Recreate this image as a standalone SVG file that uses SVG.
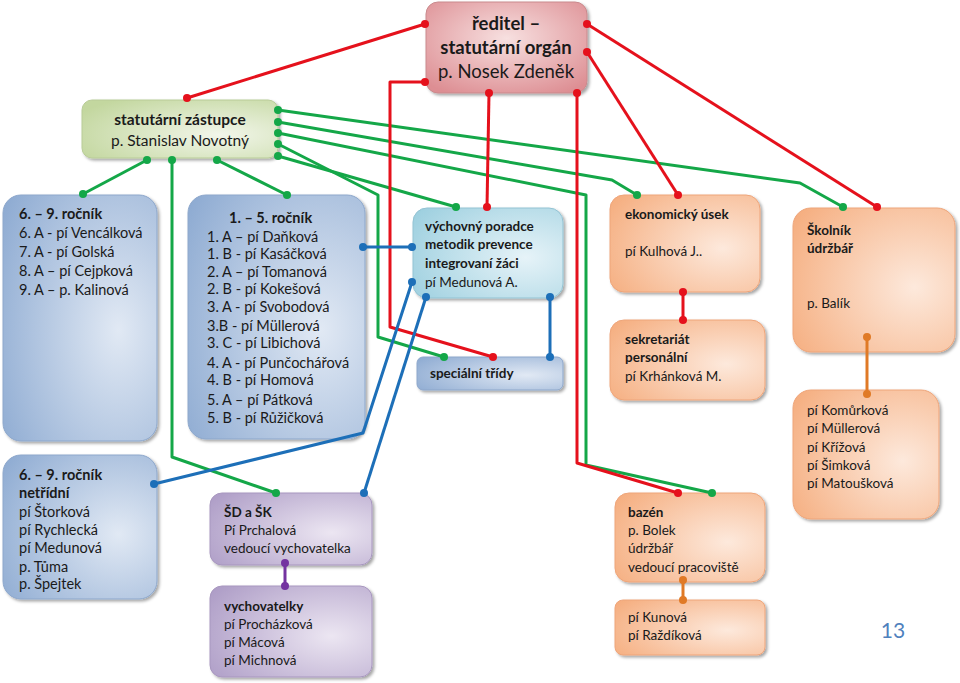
<svg xmlns="http://www.w3.org/2000/svg" width="960" height="683" viewBox="0 0 960 683">
<defs>
<radialGradient id="gRed" cx="50%" cy="40%" r="70%"><stop offset="0" stop-color="#f7e0e0"/><stop offset="1" stop-color="#dd8e93"/></radialGradient>
<radialGradient id="gGreen" cx="70%" cy="60%" r="80%"><stop offset="0" stop-color="#f2f6ea"/><stop offset="1" stop-color="#c3d79f"/></radialGradient>
<radialGradient id="gBlue" cx="75%" cy="55%" r="90%"><stop offset="0" stop-color="#e1e9f4"/><stop offset="1" stop-color="#8eabd2"/></radialGradient>
<radialGradient id="gCyan" cx="75%" cy="55%" r="90%"><stop offset="0" stop-color="#e6f3f8"/><stop offset="1" stop-color="#9ccfdf"/></radialGradient>
<radialGradient id="gOrange" cx="75%" cy="55%" r="90%"><stop offset="0" stop-color="#fde9dc"/><stop offset="1" stop-color="#f5ad7e"/></radialGradient>
<radialGradient id="gPurple" cx="75%" cy="55%" r="90%"><stop offset="0" stop-color="#ece6f2"/><stop offset="1" stop-color="#ad9cc6"/></radialGradient>
<filter id="sh" x="-10%" y="-10%" width="125%" height="125%"><feDropShadow dx="2" dy="2" stdDeviation="1.5" flood-color="#000" flood-opacity="0.35"/></filter>
</defs>
<style>
text{font-family:Lato,"Liberation Sans",sans-serif;font-size:14.5px;fill:#1a1a1a}
.b{font-weight:bold}
.box{filter:url(#sh)}
.red{fill:url(#gRed);stroke:#c98a8d;stroke-width:1}
.grn{fill:url(#gGreen);stroke:#b9cc98;stroke-width:1}
.blu{fill:url(#gBlue);stroke:#8da7cb;stroke-width:1}
.cyn{fill:url(#gCyan);stroke:#93c3d3;stroke-width:1}
.org{fill:url(#gOrange);stroke:#eea57a;stroke-width:1}
.pur{fill:url(#gPurple);stroke:#a897bf;stroke-width:1}
.c{fill:none;stroke-width:3;stroke-linejoin:round}
.cg{stroke:#14a748}.cr{stroke:#e5111c}.cb{stroke:#1d6fb8}.cp{stroke:#7433a0}.co{stroke:#e07a26}
.dg{fill:#14a748}.dr{fill:#e5111c}.db{fill:#1d6fb8}.dp{fill:#7433a0}.do{fill:#e07a26}
</style>
<rect width="960" height="683" fill="#fff"/>

<g id="reditel"><rect class="box red" x="426" y="2" width="161" height="91" rx="12"/>
<text x="506" y="30" text-anchor="middle" class="b" style="font-size:18.5px">ředitel –</text>
<text x="506" y="54" text-anchor="middle" class="b" style="font-size:18.5px">statutární orgán</text>
<text x="506" y="78" text-anchor="middle" style="font-size:18.5px">p. Nosek Zdeněk</text></g>

<g id="zastupce"><rect class="box grn" x="82" y="100" width="196" height="58" rx="10"/>
<text x="180" y="125" text-anchor="middle" class="b" style="font-size:15.5px">statutární zástupce</text>
<text x="180" y="146" text-anchor="middle" style="font-size:15.5px">p. Stanislav Novotný</text></g>

<g id="rocnik69"><rect class="box blu" x="3" y="195" width="154" height="246" rx="18"/>
<text x="19" y="219" class="b">6. – 9. ročník</text>
<text x="19" y="238">6. A - pí Vencálková</text>
<text x="19" y="257">7. A  - pí Golská</text>
<text x="19" y="276">8. A – pí Cejpková</text>
<text x="19" y="295">9. A – p. Kalinová</text></g>

<g id="netridni"><rect class="box blu" x="3" y="455" width="154" height="144" rx="18"/>
<text x="19" y="480" class="b">6. – 9. ročník</text>
<text x="19" y="498" class="b">netřídní</text>
<text x="19" y="517">pí Štorková</text>
<text x="19" y="535">pí Rychlecká</text>
<text x="19" y="553">pí Medunová</text>
<text x="19" y="572">p. Tůma</text>
<text x="19" y="589">p. Špejtek</text></g>

<g id="rocnik15"><rect class="box blu" x="188" y="195" width="177" height="244" rx="18"/>
<text x="229" y="223" class="b">1.   – 5. ročník</text>
<text x="207" y="242">1. A – pí Daňková</text>
<text x="207" y="259">1. B - pí Kasáčková</text>
<text x="207" y="277">2. A – pí Tomanová</text>
<text x="207" y="294">2. B - pí Kokešová</text>
<text x="207" y="312">3. A - pí Svobodová</text>
<text x="207" y="331">3.B - pí Müllerová</text>
<text x="207" y="348">3. C - pí Libichová</text>
<text x="207" y="368">4. A  - pí Punčochářová</text>
<text x="207" y="385">4. B - pí Homová</text>
<text x="207" y="405">5. A – pí Pátková</text>
<text x="207" y="423">5. B - pí Růžičková</text></g>

<g id="vychovny"><rect class="box cyn" x="413" y="208" width="150" height="90" rx="14"/>
<text x="425" y="231" class="b" style="font-size:13.5px">výchovný poradce</text>
<text x="425" y="249" class="b" style="font-size:13.5px">metodik prevence</text>
<text x="425" y="268" class="b" style="font-size:13.5px">integrovaní žáci</text>
<text x="425" y="287" style="font-size:13.5px">pí Medunová A.</text></g>

<g id="specialni"><rect class="box blu" x="417" y="357" width="146" height="33" rx="6"/>
<text x="430" y="378" class="b" style="font-size:13.5px">speciální třídy</text></g>

<g id="ekonomicky"><rect class="box org" x="610" y="195" width="150" height="97" rx="14"/>
<text x="625" y="219" class="b" style="font-size:13.5px">ekonomický úsek</text>
<text x="625" y="256" style="font-size:13.5px">pí Kulhová J..</text></g>

<g id="sekretariat"><rect class="box org" x="610" y="320" width="155" height="80" rx="14"/>
<text x="625" y="344" class="b" style="font-size:13.5px">sekretariát</text>
<text x="625" y="362" class="b" style="font-size:13.5px">personální</text>
<text x="625" y="381" style="font-size:13.5px">pí Krhánková M.</text></g>

<g id="skolnik"><rect class="box org" x="793" y="208" width="162" height="144" rx="18"/>
<text x="807" y="235" class="b" style="font-size:13.5px">Školník</text>
<text x="807" y="253" class="b" style="font-size:13.5px">údržbář</text>
<text x="807" y="308" style="font-size:13.5px">p. Balík</text></g>

<g id="uklid"><rect class="box org" x="793" y="390" width="146" height="129" rx="18"/>
<text x="807" y="415" style="font-size:13.5px">pí Komůrková</text>
<text x="807" y="433" style="font-size:13.5px">pí Müllerová</text>
<text x="807" y="452" style="font-size:13.5px">pí Křížová</text>
<text x="807" y="470" style="font-size:13.5px">pí Šimková</text>
<text x="807" y="488" style="font-size:13.5px">pí Matoušková</text></g>

<g id="bazen"><rect class="box org" x="615" y="493" width="150" height="89" rx="14"/>
<text x="628" y="517" class="b" style="font-size:13.5px">bazén</text>
<text x="628" y="535" style="font-size:13.5px">p. Bolek</text>
<text x="628" y="553" style="font-size:13.5px">údržbář</text>
<text x="628" y="572" style="font-size:13.5px">vedoucí pracoviště</text></g>

<g id="bazen-list"><rect class="box org" x="615" y="600" width="150" height="55" rx="8"/>
<text x="628" y="622" style="font-size:13.5px">pí  Kunová</text>
<text x="628" y="640" style="font-size:13.5px">pí Raždíková</text></g>

<g id="sdsk"><rect class="box pur" x="210" y="493" width="162" height="72" rx="12"/>
<text x="224" y="517" class="b" style="font-size:13.5px">ŠD a ŠK</text>
<text x="224" y="535" style="font-size:13.5px">Pí Prchalová</text>
<text x="224" y="553" style="font-size:13.5px">vedoucí vychovatelka</text></g>

<g id="vychovatelky"><rect class="box pur" x="210" y="586" width="162" height="91" rx="12"/>
<text x="224" y="611" class="b" style="font-size:13.5px">vychovatelky</text>
<text x="224" y="629" style="font-size:13.5px">pí Procházková</text>
<text x="224" y="647" style="font-size:13.5px">pí Mácová</text>
<text x="224" y="665" style="font-size:13.5px">pí Michnová</text></g>

<g id="page"><text x="893" y="638" text-anchor="middle" style="font-size:21px;fill:#4f81bd">13</text></g>

<g id="connectors">
<polyline class="c cg" points="147,160 83,194"/>
<polyline class="c cg" points="172,160 172,457 276,493"/>
<polyline class="c cg" points="217,160 287,195"/>
<polyline class="c cg" points="278,110 800,183 843,207"/>
<polyline class="c cg" points="278,122 612,180 637,195"/>
<polyline class="c cg" points="278,133 586,195 586,465 712,493"/>
<polyline class="c cg" points="278,144 378,195 378,337 444,357"/>
<polyline class="c cg" points="278,156 456,207"/>
<polyline class="c cr" points="425,24 187,98"/>
<polyline class="c cr" points="425,82 390,82 390,327 493,357"/>
<polyline class="c cr" points="489,93 487,207"/>
<polyline class="c cr" points="577,93 577,463 678,493"/>
<polyline class="c cr" points="587,52 678,195"/>
<polyline class="c cr" points="587,24 877,207"/>
<polyline class="c cr" points="683,292 683,320"/>
<polyline class="c cb" points="363,247 412,247"/>
<polyline class="c cb" points="412,282 363,433 154,484"/>
<polyline class="c cb" points="426,297 364,493"/>
<polyline class="c cb" points="550,297 550,357"/>
<polyline class="c cp" points="285,563 285,586"/>
<polyline class="c co" points="867,337 867,394"/>
<polyline class="c co" points="683,580 683,600"/>
<g class="dg">
<circle cx="147" cy="160" r="4"/><circle cx="83" cy="194" r="4"/>
<circle cx="172" cy="160" r="4"/><circle cx="276" cy="493" r="4"/>
<circle cx="217" cy="160" r="4"/><circle cx="287" cy="195" r="4"/>
<circle cx="278" cy="110" r="4"/><circle cx="843" cy="207" r="4"/>
<circle cx="278" cy="122" r="4"/><circle cx="637" cy="195" r="4"/>
<circle cx="278" cy="133" r="4"/><circle cx="712" cy="493" r="4"/>
<circle cx="278" cy="144" r="4"/><circle cx="444" cy="357" r="4"/>
<circle cx="278" cy="156" r="4"/><circle cx="456" cy="207" r="4"/>
</g>
<g class="dr">
<circle cx="425" cy="24" r="4"/><circle cx="187" cy="98" r="4"/>
<circle cx="425" cy="82" r="4"/><circle cx="493" cy="357" r="4"/>
<circle cx="489" cy="93" r="4"/><circle cx="487" cy="207" r="4"/>
<circle cx="577" cy="93" r="4"/><circle cx="678" cy="493" r="4"/>
<circle cx="587" cy="52" r="4"/><circle cx="678" cy="195" r="4"/>
<circle cx="587" cy="24" r="4"/><circle cx="877" cy="207" r="4"/>
<circle cx="683" cy="292" r="4"/><circle cx="683" cy="320" r="4"/>
</g>
<g class="db">
<circle cx="363" cy="247" r="4"/><circle cx="412" cy="247" r="4"/>
<circle cx="412" cy="282" r="4"/><circle cx="154" cy="484" r="4"/>
<circle cx="426" cy="297" r="4"/><circle cx="364" cy="493" r="4"/>
<circle cx="550" cy="297" r="4"/><circle cx="550" cy="357" r="4"/>
</g>
<g class="dp"><circle cx="285" cy="563" r="4"/><circle cx="285" cy="586" r="4"/></g>
<g class="do"><circle cx="867" cy="337" r="4"/><circle cx="867" cy="394" r="4"/><circle cx="683" cy="580" r="4"/><circle cx="683" cy="600" r="4"/></g>
</g>
</svg>
